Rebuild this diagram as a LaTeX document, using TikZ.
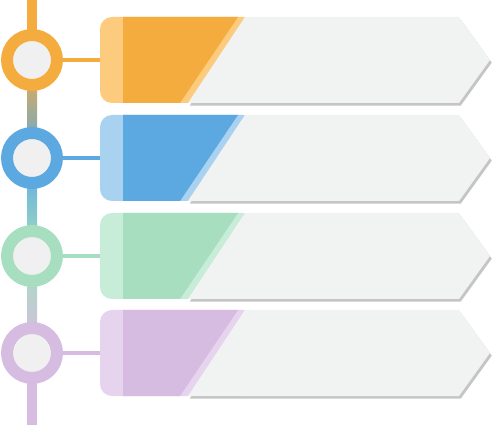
\documentclass[tikz,border=0pt]{standalone}
\usepackage{tikz}
\usetikzlibrary{shadows}
\definecolor{orgmain}{HTML}{F4AC3F}
\definecolor{orglight}{HTML}{FCCB7D}
\definecolor{bluemain}{HTML}{5BA9E0}
\definecolor{bluelight}{HTML}{A9D2F1}
\definecolor{grnmain}{HTML}{A7DEC0}
\definecolor{grnlight}{HTML}{C7ECD8}
\definecolor{purmain}{HTML}{D6BCE1}
\definecolor{purlight}{HTML}{E6D4EE}
\definecolor{panelgray}{HTML}{F1F2F2}
\definecolor{ringgray}{HTML}{F0F0F0}

\begin{document}
\begin{tikzpicture}[x=0.02cm, y=-0.02cm,
        ring/.style={circle, draw=#1, line width=6.8pt, fill=ringgray, minimum size=1cm, inner sep=0pt},
        link/.style={draw=#1, line width=2.3pt},
        panel/.style={fill=panelgray, drop shadow={shadow xshift=1pt, shadow yshift=-1.5pt, opacity=0.45}}]
    \useasboundingbox[fill=white] (0,0) rectangle (500,425);
    % vertical line
    \fill[orgmain] (27,0) rectangle (37,60);
    \shade[top color=orgmain, bottom color=bluemain] (27,60) rectangle (37,158);
    \shade[top color=bluemain, bottom color=grnmain] (27,158) rectangle (37,256);
    \shade[top color=grnmain, bottom color=purmain] (27,256) rectangle (37,353);
    \fill[purmain] (27,353) rectangle (37,425);

    % orange row
    \node[ring=orgmain] (c1) at (32,60) {};
    \coordinate (t1) at (100,60);
    \draw[link=orgmain] (c1) -- (t1);
    \fill[orglight, rounded corners=0.24cm] (255,17) -- (100,17) -- (100,103) -- (255,103) -- cycle;
    \fill[orgmain] (123,17) -- (238,17) -- (180,103) -- (123,103) -- cycle;
    \fill[panel] (245,17) -- (459,17) -- (490,60) -- (459,103) -- (188,103) -- cycle;

    % blue row
    \begin{scope}[shift={(0,98)}]
        \node[ring=bluemain] (c2) at (32,60) {};
        \coordinate (t2) at (100,60);
        \draw[link=bluemain] (c2) -- (t2);
        \fill[bluelight, rounded corners=0.24cm] (255,17) -- (100,17) -- (100,103) -- (255,103) -- cycle;
        \fill[bluemain] (123,17) -- (238,17) -- (180,103) -- (123,103) -- cycle;
        \fill[panel] (245,17) -- (459,17) -- (490,60) -- (459,103) -- (188,103) -- cycle;
    \end{scope}

    % green row
    \begin{scope}[shift={(0,196)}]
        \node[ring=grnmain] (c3) at (32,60) {};
        \coordinate (t3) at (100,60);
        \draw[link=grnmain] (c3) -- (t3);
        \fill[grnlight, rounded corners=0.24cm] (255,17) -- (100,17) -- (100,103) -- (255,103) -- cycle;
        \fill[grnmain] (123,17) -- (238,17) -- (180,103) -- (123,103) -- cycle;
        \fill[panel] (245,17) -- (459,17) -- (490,60) -- (459,103) -- (188,103) -- cycle;
    \end{scope}

    % purple row
    \begin{scope}[shift={(0,293)}]
        \node[ring=purmain] (c4) at (32,60) {};
        \coordinate (t4) at (100,60);
        \draw[link=purmain] (c4) -- (t4);
        \fill[purlight, rounded corners=0.24cm] (255,17) -- (100,17) -- (100,103) -- (255,103) -- cycle;
        \fill[purmain] (123,17) -- (238,17) -- (180,103) -- (123,103) -- cycle;
        \fill[panel] (245,17) -- (459,17) -- (490,60) -- (459,103) -- (188,103) -- cycle;
    \end{scope}
\end{tikzpicture}
\end{document}
